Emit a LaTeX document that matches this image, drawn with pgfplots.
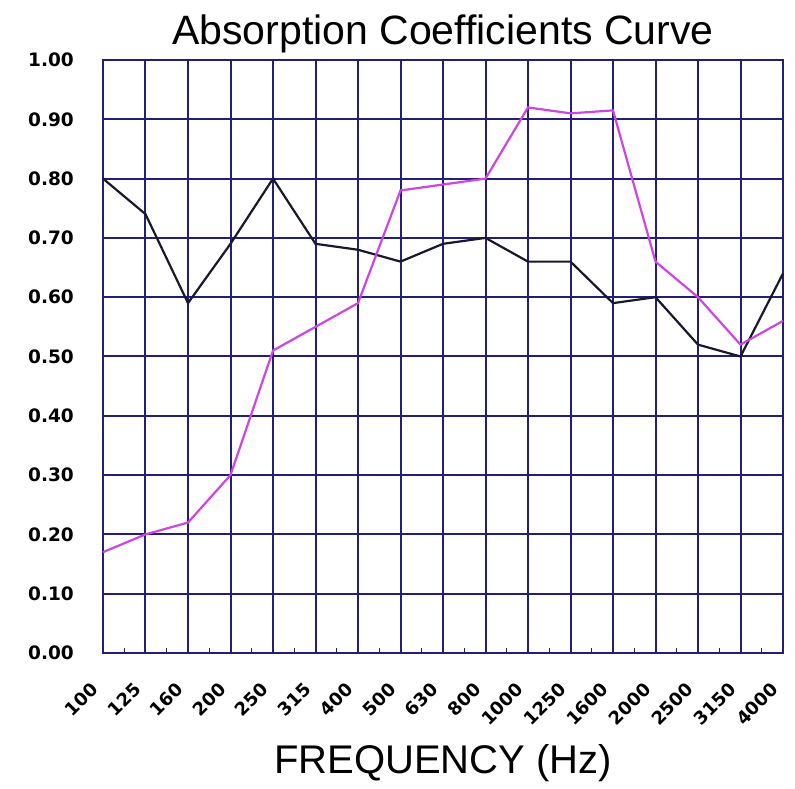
\documentclass[border=0pt]{standalone}
\usepackage{fontspec}
\setmainfont{Liberation Sans}
\newfontfamily\dvb{DejaVu Sans}[BoldFont={DejaVu Sans Bold}]
\usepackage{pgfplots}
\pgfplotsset{compat=1.18}
\definecolor{gridc}{RGB}{35,30,120}
\definecolor{blk}{RGB}{25,25,45}
\definecolor{mag}{RGB}{205,70,225}
\begin{document}
\begin{tikzpicture}
\useasboundingbox (-103pt,-136pt) rectangle (692pt,653pt);
\begin{axis}[
  scale only axis, width=680pt, height=593pt,
  xmin=0, xmax=16, ymin=0, ymax=1,
  xtick={0,...,16},
  xticklabels={100,125,160,200,250,315,400,500,630,800,1000,1250,1600,2000,2500,3150,4000},
  minor xtick={0.5,1.5,...,15.5},
  ytick={0,0.1,...,1.0},
  grid=major,
  major grid style={gridc, line width=2pt},
  axis line style={gridc, line width=2pt},
  major tick length=0pt,
  minor tick length=5pt,
  minor tick style={gridc, line width=1pt},
  tick align=inside,
  xtick pos=bottom, ytick pos=left,
  /pgf/number format/assume math mode=true,
  yticklabel={\pgfmathprintnumber[fixed, fixed zerofill, precision=2]{\tick}},
  yticklabel style={font=\dvb\bfseries\fontsize{18.5}{18.5}\selectfont, anchor=east, xshift=-29pt, inner sep=0pt},
  xticklabel style={font=\dvb\bfseries\fontsize{18}{18}\selectfont, xshift=-13pt, yshift=-28pt, rotate=45, anchor=north east, inner sep=0pt},
  clip=false,
]
\addplot[blk, line width=2.2pt] coordinates {
(0,0.80) (1,0.74) (2,0.59) (3,0.69) (4,0.80) (5,0.69) (6,0.68) (7,0.66) (8,0.69) (9,0.70) (10,0.66) (11,0.66) (12,0.59) (13,0.60) (14,0.52) (15,0.50) (16,0.64)};
\addplot[mag, line width=2.2pt] coordinates {
(0,0.17) (1,0.20) (2,0.22) (3,0.30) (4,0.51) (5,0.55) (6,0.59) (7,0.78) (8,0.79) (9,0.80) (10,0.92) (11,0.91) (12,0.915) (13,0.66) (14,0.60) (15,0.52) (16,0.56)};
\node[font=\fontsize{41}{41}\selectfont, anchor=base] at (axis description cs:0.5,1) [yshift=15pt] {Absorption Coefficients Curve};
\node[font=\fontsize{40}{40}\selectfont, anchor=base] at (axis description cs:0.5,0) [yshift=-120pt] {FREQUENCY (Hz)};
\end{axis}
\end{tikzpicture}
\end{document}
